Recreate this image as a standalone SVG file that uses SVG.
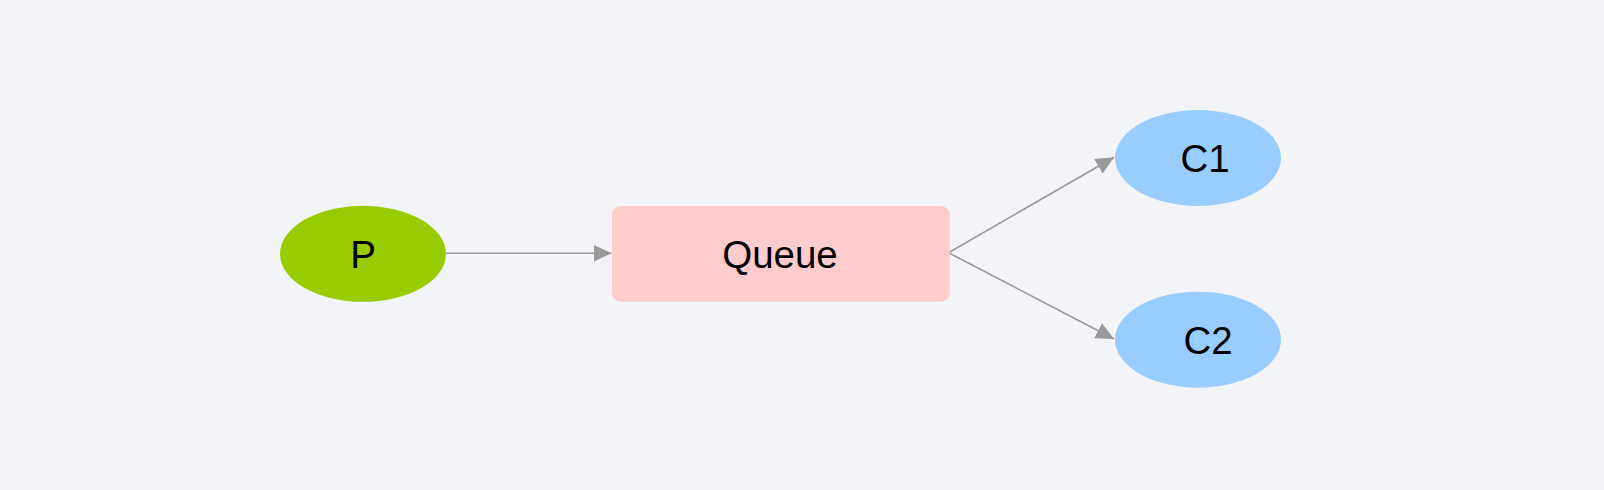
<svg xmlns="http://www.w3.org/2000/svg" width="1604" height="490" viewBox="0 0 1604 490">
<style>
.lbl{font-family:"Liberation Sans",Arial,sans-serif;font-size:38.5px;fill:#000;text-anchor:middle}
.edge{stroke:#999999;stroke-width:1.6;fill:none}
</style>
<defs>
<marker id="arr" markerUnits="userSpaceOnUse" markerWidth="18" markerHeight="17" refX="18" refY="8.5" orient="auto" viewBox="0 0 18 17">
<path d="M0,0 L18,8.5 L0,17 Z" fill="#999999"/>
</marker>
</defs>
<rect width="1604" height="490" fill="#f3f4f8"/>
<g id="connectors">
<line class="edge" x1="446" y1="253.3" x2="611.5" y2="253.3" marker-end="url(#arr)"/>
<line class="edge" x1="948.5" y1="252.7" x2="1114" y2="157.3" marker-end="url(#arr)"/>
<line class="edge" x1="948.5" y1="252.7" x2="1114" y2="339" marker-end="url(#arr)"/>
</g>
<g id="P">
<ellipse cx="363" cy="253.8" rx="83" ry="48" fill="#99cc00"/>
<text class="lbl" x="363" y="267.5">P</text>
</g>
<g id="Queue">
<rect x="612" y="206" width="338" height="95.7" rx="9" fill="#ffcccc"/>
<text class="lbl" x="780" y="267.5">Queue</text>
</g>
<g id="C1">
<ellipse cx="1198" cy="158" rx="83" ry="48" fill="#99ccff"/>
<text class="lbl" x="1205" y="171.5">C1</text>
</g>
<g id="C2">
<ellipse cx="1198" cy="339.7" rx="83" ry="48" fill="#99ccff"/>
<text class="lbl" x="1208" y="354">C2</text>
</g>
</svg>
